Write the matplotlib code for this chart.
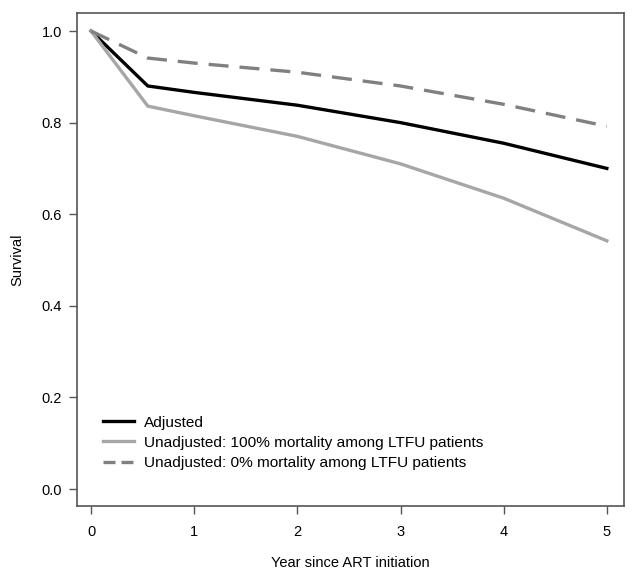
import matplotlib
matplotlib.use("Agg")
import matplotlib.pyplot as plt
from matplotlib.lines import Line2D

# Data
years = [0, 0.55, 1, 2, 3, 4, 5]
adjusted = [1.0, 0.880, 0.866, 0.838, 0.800, 0.755, 0.700]
unadj_100 = [1.0, 0.836, 0.815, 0.770, 0.710, 0.635, 0.542]
unadj_0 = [1.0, 0.941, 0.930, 0.910, 0.880, 0.840, 0.792]

labels = ['Adjusted',
          'Unadjusted: 100% mortality among LTFU patients',
          'Unadjusted: 0% mortality among LTFU patients']

plt.rcParams['font.family'] = ['Liberation Sans', 'DejaVu Sans']
plt.rcParams['font.size'] = 10.5

fig = plt.figure(figsize=(6.34, 5.72), dpi=100)
ax = fig.add_axes([0.1215, 0.1154, 0.8625, 0.8616])

ax.plot(years, adjusted, color='black', lw=2.4)
ax.plot(years, unadj_100, color='#a6a6a6', lw=2.4)
ax.plot(years, unadj_0, color='#808080', lw=2.4, ls=(0, (6, 3.3)))

ax.set_xlim(-0.136, 5.165)
ax.set_ylim(-0.037, 1.039)
ax.set_xticks([0, 1, 2, 3, 4, 5])
ax.set_yticks([0.0, 0.2, 0.4, 0.6, 0.8, 1.0])
ax.set_yticklabels(['0.0', '0.2', '0.4', '0.6', '0.8', '1.0'])
ax.tick_params(direction='out', length=6, width=1, color='#555555', pad=5)
ax.tick_params(axis='x', pad=8)
for s in ax.spines.values():
    s.set_color('#555555')
    s.set_linewidth(1.2)

ax.set_xlabel('Year since ART initiation', labelpad=12)
ax.set_ylabel('Survival', labelpad=12)

# legend keys: shorter dashes so two of them fit, like the original
handles = [Line2D([], [], color='black', lw=2.4),
           Line2D([], [], color='#a6a6a6', lw=2.4),
           Line2D([], [], color='#808080', lw=2.4, ls=(0, (3.6, 1.8)))]
ax.legend(handles, labels, loc='lower left', bbox_to_anchor=(0.023, 0.045),
          frameon=False, handlelength=1.95, handletextpad=0.65,
          labelspacing=0.4, fontsize=11.1)

fig.savefig('out.png', dpi=100)
